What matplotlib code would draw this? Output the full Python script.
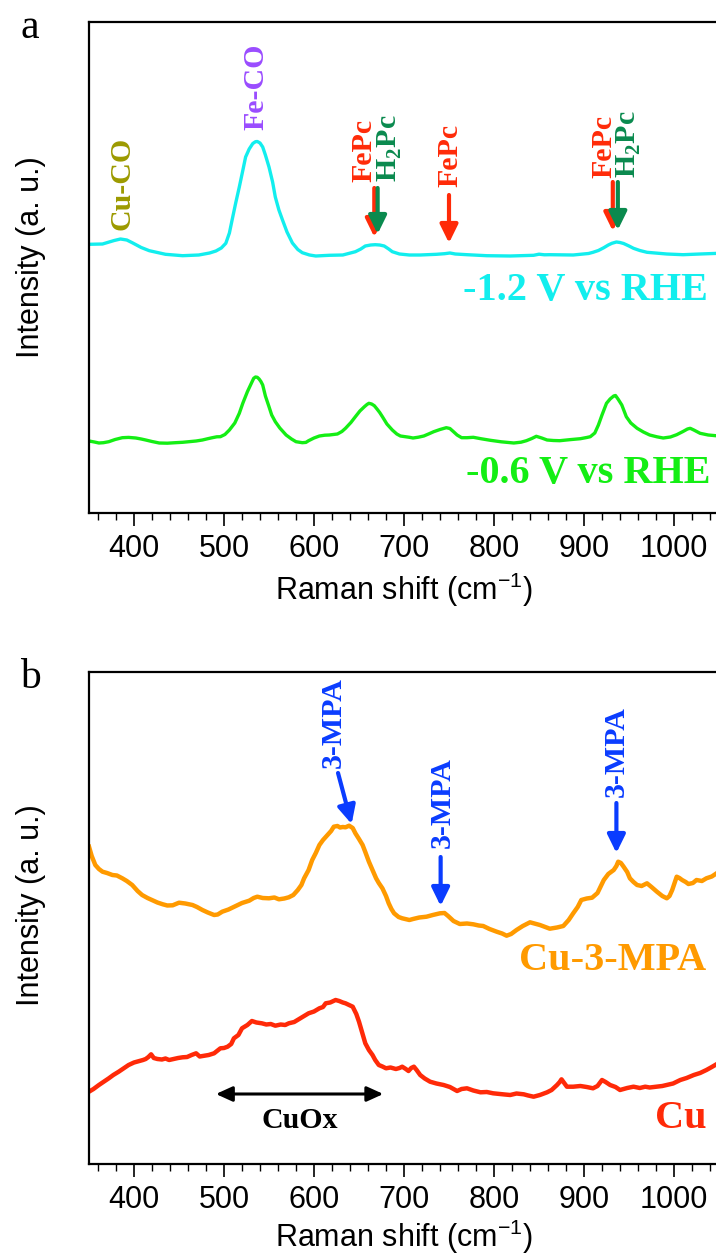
import matplotlib
matplotlib.use("Agg")
import matplotlib.pyplot as plt
from matplotlib.ticker import MultipleLocator

plt.rcParams["font.family"] = "Liberation Sans"
plt.rcParams["mathtext.fontset"] = "custom"
plt.rcParams["mathtext.rm"] = "Liberation Sans"
plt.rcParams["mathtext.bf"] = "Liberation Serif:bold"

SERIF = "Liberation Serif"

# ---- panel a: in-situ Raman at two potentials ----
shift_12v = [350, 365, 378, 385, 392, 398, 408, 417, 435, 454, 472, 484, 491, 497, 502,
             506, 509, 513, 517, 521, 524, 528, 532, 535, 537, 540, 543, 546, 550, 554,
             557, 561, 565, 570, 576, 582, 587, 595, 602, 617, 632, 646, 652, 657, 663,
             668, 673, 678, 683, 687, 695, 706, 718, 736, 745, 751, 757, 770, 792, 818,
             844, 850, 856, 862, 888, 905, 910, 916, 922, 927, 931, 936, 940, 944, 950,
             955, 962, 970, 992, 1010, 1029, 1050]
int_12v = [268.7, 269, 272.5, 274, 273, 270.3, 265.5, 262.3, 258.7, 257.3, 258, 260, 262,
           265, 269.7, 280, 293, 310, 326, 343, 356, 364, 369.5, 371.3, 371.5, 370, 366,
           358, 346, 331, 316, 303, 293, 281, 270, 263.5, 260.3, 258, 257, 257.7, 258,
           261.3, 264, 267, 268, 268.3, 268, 267, 264, 261.3, 259, 258, 258, 258.7, 259.3,
           260, 259, 258.3, 257.3, 257, 257.7, 258.8, 258.2, 258.3, 258, 259.5, 260.7,
           262.5, 265.3, 268, 269.7, 271, 270.5, 269.5, 267, 264.7, 262.5, 260.7, 259,
           258.3, 259, 259.7]

shift_06v = [350, 356, 361, 366, 372, 379, 387, 394, 402, 408, 413, 420, 428, 437, 446,
             454, 461, 469, 476, 482, 487, 492, 496, 501, 506, 512, 517, 521, 526, 530,
             533, 535, 537, 539, 541, 543, 546, 550, 553, 557, 562, 569, 575, 580, 587,
             591, 594, 600, 606, 612, 617, 626, 631, 635, 641, 646, 651, 656, 659, 661,
             664, 667, 670, 673, 676, 681, 687, 692, 696, 706, 710, 716, 722, 728, 733,
             740, 747, 751, 755, 759, 764, 770, 777, 786, 796, 808, 822, 830, 836, 842,
             847, 853, 859, 866, 873, 885, 896, 903, 907, 912, 916, 920, 925, 929, 933,
             935, 938, 942, 947, 952, 959, 966, 973, 981, 988, 996, 1003, 1010, 1015,
             1018, 1022, 1029, 1038, 1050]
int_06v = [72, 71, 70, 70.3, 71.3, 73.5, 75.3, 75.6, 75, 74, 73, 71.5, 70, 69.8, 70.3,
           70.7, 71.3, 72, 73, 74.3, 75.3, 76.2, 76.3, 78.5, 83, 90, 99.7, 110, 121.3, 129,
           134.7, 136, 135.7, 134, 131.5, 128, 117, 106.3, 98, 91.3, 85, 78, 74, 71.3, 70.3,
           70.6, 72.3, 75, 77, 77.8, 78, 79, 81.5, 84.7, 90.5, 96.3, 102, 106.3, 108.6,
           109.7, 109, 107.3, 104, 100.5, 96.3, 89, 83, 79, 77, 75.7, 75, 75.8, 77, 79.3,
           81.3, 83.5, 85.3, 84.5, 81.3, 78, 75.3, 75.3, 75.7, 74.2, 72.7, 71.2, 70, 70.8,
           72.3, 74.5, 76.7, 75, 73, 72.5, 72.3, 73.4, 74.3, 75.5, 76.3, 80, 88, 98,
           109.7, 114, 117, 117.5, 113.7, 108, 96.3, 90, 84.7, 81, 78, 76.2, 75, 76, 78.3,
           81.5, 84, 84.7, 83, 79.7, 78, 77]

# ---- panel b: Cu with and without 3-MPA ----
shift_mpa = [350, 353, 357, 361, 365, 370, 376, 381, 387, 392, 398, 404, 409, 415, 420,
             426, 432, 437, 443, 450, 457, 465, 470, 476, 482, 489, 493, 498, 505, 513,
             520, 528, 533, 537, 543, 550, 556, 561, 567, 572, 577, 582, 586, 589, 594,
             598, 602, 606, 610, 615, 619, 622, 626, 629, 632, 635, 639, 643, 646, 650,
             654, 657, 661, 665, 669, 672, 676, 680, 683, 686, 689, 694, 698, 706, 710,
             717, 725, 732, 740, 745, 749, 755, 762, 770, 777, 783, 788, 795, 803, 809,
             814, 819, 825, 832, 840, 845, 851, 857, 862, 870, 877, 883, 888, 893, 897,
             903, 909, 915, 922, 927, 933, 936, 938, 941, 944, 948, 951, 955, 959, 964,
             970, 975, 981, 987, 992, 995, 998, 1001, 1003, 1006, 1009, 1013, 1016, 1021,
             1025, 1031, 1036, 1042, 1047, 1050]
int_mpa = [317.3, 308, 299, 295, 292.3, 291, 289, 288.5, 285.7, 283, 279, 273, 269, 266,
           264, 261.5, 259.7, 258.5, 258.7, 261.3, 260.5, 259, 257, 254, 251.5, 249, 249.5,
           252.3, 254.5, 258, 261, 263.3, 266, 267.3, 266, 265.7, 266.5, 264.7, 265.5,
           266.7, 269, 274, 279, 285.7, 294, 304, 311, 319, 324, 329, 333, 337.3, 338,
           336.5, 337, 336.7, 338.3, 336, 330.7, 325, 319, 312, 302.3, 294, 285.7, 281,
           275.7, 268, 260.7, 255, 250.7, 247, 245.7, 244, 245, 246.5, 247.3, 249, 250.7,
           251, 248, 243, 240, 240.5, 239.7, 238.5, 238, 235, 232.3, 230.5, 228.3, 230,
           234, 238, 241.7, 240.5, 239, 237, 235.3, 236.5, 238, 244, 250.7, 257, 264,
           265.5, 266.3, 271, 284, 290, 294, 298, 302.3, 301, 297.3, 292, 285.7, 282,
           279, 278, 280.7, 277, 272.3, 268, 265.7, 268, 274, 282, 287.3, 286, 284, 282,
           280, 281, 284, 283, 285.7, 287.5, 290.5, 292.3]

shift_cu = [350, 355, 361, 366, 372, 377, 383, 389, 394, 400, 406, 410, 413, 416, 419,
            422, 426, 431, 435, 439, 444, 449, 454, 459, 464, 469, 473, 478, 483, 489,
            493, 496, 500, 504, 508, 511, 516, 520, 526, 531, 536, 542, 547, 552, 557,
            563, 568, 572, 578, 583, 589, 594, 600, 606, 610, 613, 618, 624, 628, 632,
            635, 639, 643, 647, 650, 654, 657, 661, 665, 668, 672, 676, 680, 685, 691,
            695, 698, 702, 705, 708, 711, 714, 718, 723, 729, 736, 744, 751, 759, 764,
            770, 777, 785, 792, 799, 806, 812, 818, 825, 833, 838, 844, 851, 859, 864,
            870, 873, 875, 878, 881, 888, 896, 903, 910, 915, 920, 924, 929, 935, 940,
            948, 955, 962, 968, 973, 980, 987, 992, 999, 1007, 1014, 1022, 1029, 1036,
            1042, 1047, 1050]
int_cu = [72.3, 75, 79, 82, 85.7, 89, 92.3, 96, 99, 101.5, 103, 104, 105, 107, 109.7,
          106, 105, 104.5, 105.5, 104, 105, 106, 106.7, 107, 109, 110.7, 107.5, 108.3, 109,
          110.7, 113.5, 115.7, 116, 117.3, 120, 125.7, 129, 135.7, 139, 143, 141.5, 140.7,
          139.5, 140, 138.3, 139.5, 139, 140.7, 142, 144.7, 148, 150.7, 152.5, 155.7, 157,
          160.7, 161.5, 164, 163, 161.5, 160.7, 159, 157.3, 150, 142.3, 130, 120.7, 114,
          109, 104, 99, 97.5, 95.7, 96.5, 95, 96, 97.3, 95, 93, 96, 97.3, 94, 89, 85.5,
          82.3, 80.5, 79, 77, 73, 75, 75.7, 73.5, 71.7, 72, 70.7, 70, 69.5, 69, 70.5, 69.7,
          68.5, 67.3, 69, 71.7, 74, 79, 82, 84.7, 81, 77.3, 77.3, 78, 77, 75.7, 78, 84, 82,
          79, 77, 74, 76, 77.3, 76, 77.3, 76.5, 77.3, 78, 79, 80.5, 84, 86, 89, 91, 94, 97,
          99.7, 101]

MAJOR = 100
MINOR = 20
XLIM = (350, 1050)

C_CYAN = "#12eeee"
C_LIME = "#14ee14"
C_RED = "#ff2a08"
C_GREEN = "#0a8a4e"
C_BLUE = "#0a3cff"
C_ORANGE = "#ff9a00"


def style_axes(ax, labelpad):
    ax.set_xlim(*XLIM)
    ax.xaxis.set_major_locator(MultipleLocator(MAJOR))
    ax.xaxis.set_minor_locator(MultipleLocator(MINOR))
    ax.tick_params(axis="x", which="major", direction="out", length=9, width=1.2,
                   labelsize=22, pad=6)
    ax.tick_params(axis="x", which="minor", direction="out", length=5, width=1.0)
    ax.set_yticks([])
    ax.spines["right"].set_visible(False)
    for s in ("left", "top", "bottom"):
        ax.spines[s].set_linewidth(1.6)
    ax.set_xlabel("Raman shift (cm$^{-1}$)", fontsize=22, labelpad=labelpad)


def arrow(ax, x0, y0, x1, y1, color, lw=3.0):
    ax.annotate("", xy=(x1, y1), xytext=(x0, y0),
                arrowprops=dict(arrowstyle="-|>,head_length=0.55,head_width=0.27",
                                color=color, lw=lw, mutation_scale=20,
                                shrinkA=0, shrinkB=0))


def vlabel(ax, x, y, s, color):
    ax.text(x, y, s, rotation=90, ha="center", va="bottom", color=color,
            fontsize=21.5, fontweight="bold", family=SERIF)


W, H = 716, 1256
fig = plt.figure(figsize=(W / 100, H / 100), dpi=100)

ax_a = fig.add_axes([89 / W, 1 - 513 / H, 630 / W, 491 / H])
ax_b = fig.add_axes([89 / W, 1 - 1164 / H, 630 / W, 492 / H])

# panel a
ax_a.plot(shift_12v, int_12v, color=C_CYAN, lw=2.4, solid_joinstyle="round")
ax_a.plot(shift_06v, int_06v, color=C_LIME, lw=2.4, solid_joinstyle="round")
ax_a.set_ylim(0, 491)
style_axes(ax_a, 5)

vlabel(ax_a, 387, 283, "Cu-CO", "#9c9a00")
vlabel(ax_a, 536, 383, "Fe-CO", "#9a4cff")
vlabel(ax_a, 655.5, 331, "FePc", C_RED)
vlabel(ax_a, 684, 331, "H$_\\mathbf{2}$Pc", C_GREEN)
vlabel(ax_a, 751, 326, "FePc", C_RED)
vlabel(ax_a, 922, 335, "FePc", C_RED)
vlabel(ax_a, 950, 335, "H$_\\mathbf{2}$Pc", C_GREEN)
arrow(ax_a, 667, 325, 667, 276, C_RED)
arrow(ax_a, 670.7, 325, 670.7, 279, C_GREEN)
arrow(ax_a, 750, 318, 750, 270, C_RED)
arrow(ax_a, 932, 331, 932, 282, C_RED)
arrow(ax_a, 937.6, 331, 937.6, 283, C_GREEN)

ax_a.text(1038, 213, "-1.2 V vs RHE", ha="right", va="baseline", color=C_CYAN,
          fontsize=29, fontweight="bold", family=SERIF)
ax_a.text(1040, 30, "-0.6 V vs RHE", ha="right", va="baseline", color=C_LIME,
          fontsize=29, fontweight="bold", family=SERIF)

# panel b
ax_b.plot(shift_mpa, int_mpa, color=C_ORANGE, lw=3.2, solid_joinstyle="round")
ax_b.plot(shift_cu, int_cu, color=C_RED, lw=3.2, solid_joinstyle="round")
ax_b.set_ylim(0, 492)
style_axes(ax_b, 2)

vlabel(ax_b, 621, 396, "3-MPA", C_BLUE)
vlabel(ax_b, 742, 316, "3-MPA", C_BLUE)
vlabel(ax_b, 936, 367, "3-MPA", C_BLUE)
arrow(ax_b, 626.7, 391, 641.8, 340, C_BLUE)
arrow(ax_b, 740.7, 307, 740.7, 258, C_BLUE)
arrow(ax_b, 936, 361, 936, 311, C_BLUE)

ax_b.annotate("", xy=(491, 70), xytext=(677, 70),
              arrowprops=dict(arrowstyle="<|-|>,head_length=0.55,head_width=0.25",
                              color="black", lw=2.2, mutation_scale=18,
                              shrinkA=0, shrinkB=0))
ax_b.text(584.6, 36, "CuOx", ha="center", va="baseline", color="black",
          fontsize=21.5, fontweight="bold", family=SERIF)
ax_b.text(1036, 194, "Cu-3-MPA", ha="right", va="baseline", color=C_ORANGE,
          fontsize=29, fontweight="bold", family=SERIF)
ax_b.text(1036, 36, "Cu", ha="right", va="baseline", color=C_RED,
          fontsize=29, fontweight="bold", family=SERIF)

# y labels and panel letters
fig.text(31 / W, 1 - 257 / H, "Intensity (a. u.)", rotation=90, ha="center",
         va="center", fontsize=22)
fig.text(31 / W, 1 - 905 / H, "Intensity (a. u.)", rotation=90, ha="center",
         va="center", fontsize=22)
fig.text(30 / W, 1 - 38 / H, "a", ha="center", va="baseline", fontsize=30,
         family=SERIF)
fig.text(30 / W, 1 - 688 / H, "b", ha="center", va="baseline", fontsize=30,
         family=SERIF)

fig.savefig("out.png", dpi=100)
